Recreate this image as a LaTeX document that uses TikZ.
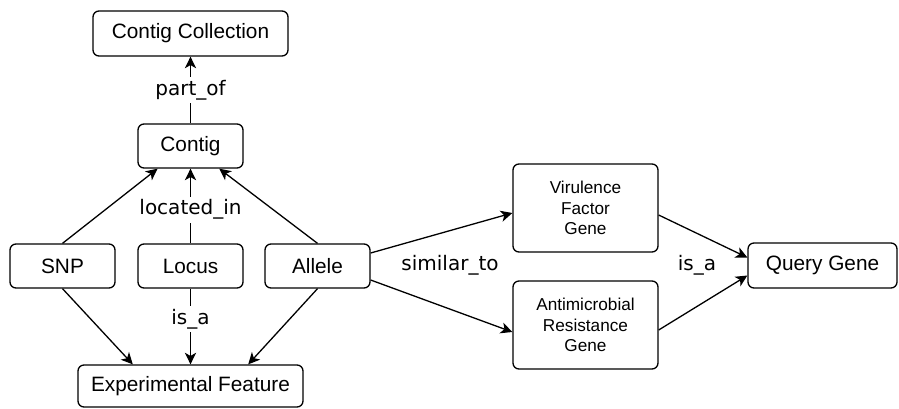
\documentclass[tikz,border=0pt]{standalone}
\usepackage{fontspec}
\setmainfont{Liberation Sans}
\newfontfamily\lblfont{DejaVu Sans}
\usetikzlibrary{arrows.meta,calc}
\begin{document}
\begin{tikzpicture}[x=0.5pt,y=-0.5pt,
  box/.style={draw,rounded corners=3pt,line width=0.65pt,inner sep=0pt,align=center,
    font=\fontsize{10.4}{12.5}\selectfont},
  smallbox/.style={box,font=\fontsize{8.6}{10.4}\selectfont},
  conn/.style={line width=0.65pt,-{Stealth[length=5.8pt,width=5.6pt,inset=1.6pt]}},
  lbl/.style={fill=white,inner sep=1.5pt,font=\lblfont\fontsize{10}{12}\selectfont}]
\useasboundingbox (0,0) rectangle (899,408);
\node[box,minimum width=97.5pt,minimum height=22.5pt] (cc) at (190.5,33.5) {Contig Collection};
\node[box,minimum width=52.5pt,minimum height=22pt] (contig) at (190.5,146) {Contig};
\node[box,minimum width=52.5pt,minimum height=22pt] (snp) at (62.5,266) {SNP};
\node[box,minimum width=52.5pt,minimum height=22pt] (locus) at (190.5,266) {Locus};
\node[box,minimum width=52.5pt,minimum height=22pt] (allele) at (317.5,266) {Allele};
\node[box,minimum width=112.5pt,minimum height=21pt] (ef) at (190.5,386) {Experimental Feature};
\node[smallbox,minimum width=72.5pt,minimum height=44pt] (vf) at (585.5,208) {Virulence\\Factor\\Gene};
\node[smallbox,minimum width=72.5pt,minimum height=44pt] (amr) at (585.5,325) {Antimicrobial\\Resistance\\Gene};
\node[box,minimum width=74.5pt,minimum height=22.5pt] (qg) at (822.5,265.5) {Query Gene};

\draw[conn] (contig) -- node[lbl] {part\_of} (cc);
\draw[conn] (locus) -- node[lbl,pos=0.45] {located\_in} (contig);
\draw[conn] (snp.north) -- ($(contig.south west)!0.19!(contig.south east)$);
\draw[conn] (allele.north) -- ($(contig.south west)!0.77!(contig.south east)$);
\draw[conn] (locus) -- node[lbl,pos=0.4] {is\_a} (ef);
\draw[conn] (snp.south) -- ($(ef.north west)!0.245!(ef.north east)$);
\draw[conn] (allele.south) -- ($(ef.north west)!0.755!(ef.north east)$);

\draw[conn] ($(allele.east)+(0,-13)$) -- ($(vf.west)+(0,5)$);
\draw[conn] ($(allele.east)+(0,14)$) -- ($(amr.west)+(0,7)$);
\draw[conn] ($(vf.east)+(0,7)$) -- ($(qg.west)+(0,-8)$);
\draw[conn] ($(amr.east)+(0,5)$) -- ($(qg.west)+(0,10)$);

\node[lbl,fill=none] (sim) at (450,265) {similar\_to};
\node[lbl,fill=none] (isa) at (697,265) {is\_a};
\end{tikzpicture}
\end{document}
